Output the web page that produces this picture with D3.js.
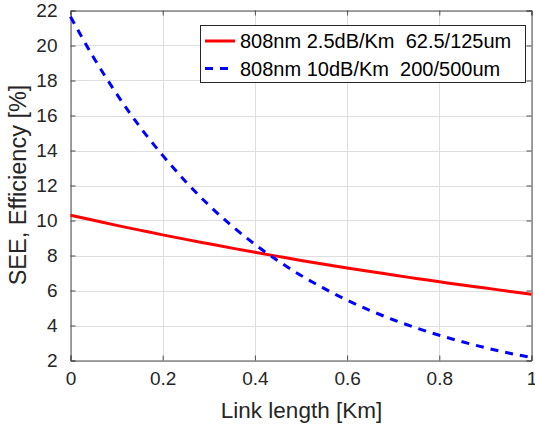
<!DOCTYPE html>
<html>
<head>
<meta charset="utf-8">
<script src="https://cdn.jsdelivr.net/npm/d3@7"></script>
<style>
  body { margin: 0; background: #fff; }
  text { font-family: "Liberation Sans", Arial, sans-serif; }
</style>
</head>
<body>
<div id="container"></div>
<script>
// Link length samples [Km]
var linkLength = [0, 0.05, 0.1, 0.15, 0.2, 0.25, 0.3, 0.35, 0.4, 0.45, 0.5,
                  0.55, 0.6, 0.65, 0.7, 0.75, 0.8, 0.85, 0.9, 0.95, 1];

// 808nm 2.5dB/Km 62.5/125um
var seeThin = [10.30, 10.01, 9.72, 9.45, 9.18, 8.92, 8.67, 8.42, 8.18, 7.95, 7.72,
               7.50, 7.29, 7.09, 6.88, 6.69, 6.50, 6.31, 6.14, 5.96, 5.79];

// 808nm 10dB/Km 200/500um
var seeThick = [21.65, 19.32, 17.24, 15.37, 13.72, 12.22, 10.88, 9.69, 8.64, 7.70, 6.86,
                6.12, 5.45, 4.86, 4.33, 3.86, 3.44, 3.07, 2.73, 2.43, 2.17];

var xTicks = [0, 0.2, 0.4, 0.6, 0.8, 1];
var yTicks = [2, 4, 6, 8, 10, 12, 14, 16, 18, 20, 22];
var seriesNames = ["808nm 2.5dB/Km  62.5/125um", "808nm 10dB/Km  200/500um"];

var width = 535,
    height = 429;

// Plot box edges
var pLeft = 70.5, pRight = 531.5, pTop = 10.5, pBottom = 360.5;

var svg = d3.select("#container")
            .append("svg")
              .attr("width", width)
              .attr("height", height);

var x = d3.scaleLinear().domain([0, 1]).range([pLeft, pRight]);
var y = d3.scaleLinear().domain([2, 22]).range([pBottom, pTop]);

// Grid lines
var grid = svg.append("g").attr("stroke", "#dedede").attr("stroke-width", 1);
xTicks.forEach(function(t) {
  grid.append("line")
    .attr("x1", Math.round(x(t)) + 0.5).attr("x2", Math.round(x(t)) + 0.5)
    .attr("y1", pTop).attr("y2", pBottom);
});
yTicks.forEach(function(t) {
  grid.append("line")
    .attr("y1", Math.round(y(t)) + 0.5).attr("y2", Math.round(y(t)) + 0.5)
    .attr("x1", pLeft).attr("x2", pRight);
});

// Axes with inward ticks (box on)
var fmt = function(d) { return d3.format("")(d); };
var axisColor = "#4d4d4d";

var xAxis = svg.append("g")
  .attr("transform", "translate(0," + pBottom + ")")
  .call(d3.axisBottom(x).tickValues(xTicks).tickSize(-5).tickPadding(11).tickFormat(fmt));
var xAxisTop = svg.append("g")
  .attr("transform", "translate(0," + pTop + ")")
  .call(d3.axisTop(x).tickValues(xTicks).tickSize(-5).tickFormat(""));
var yAxis = svg.append("g")
  .attr("transform", "translate(" + pLeft + ",0)")
  .call(d3.axisLeft(y).tickValues(yTicks).tickSize(-5).tickPadding(13).tickFormat(fmt));
var yAxisRight = svg.append("g")
  .attr("transform", "translate(" + pRight + ",0)")
  .call(d3.axisRight(y).tickValues(yTicks).tickSize(-5).tickFormat(""));

[xAxis, xAxisTop, yAxis, yAxisRight].forEach(function(a) {
  a.select(".domain").attr("stroke", axisColor).attr("stroke-width", 1);
  a.selectAll(".tick line").attr("stroke", axisColor);
  a.selectAll("text")
    .attr("fill", "#262626")
    .style("font-size", "19px")
    .style("font-family", "'Liberation Sans', Arial, sans-serif");
});

// Series
var line = d3.line()
  .x(function(d) { return x(d[0]); })
  .y(function(d) { return y(d[1]); })
  .curve(d3.curveMonotoneX);

var thinData = linkLength.map(function(l, i) { return [l, seeThin[i]]; });
var thickData = linkLength.map(function(l, i) { return [l, seeThick[i]]; });

svg.append("path")
  .datum(thinData)
  .attr("d", line)
  .attr("fill", "none")
  .attr("stroke", "#ff0000")
  .attr("stroke-width", 3);

svg.append("path")
  .datum(thickData)
  .attr("d", line)
  .attr("fill", "none")
  .attr("stroke", "#0000ff")
  .attr("stroke-width", 3)
  .attr("stroke-dasharray", "8,7");

// Axis labels
svg.append("text")
  .attr("x", 301.5)
  .attr("y", 418)
  .attr("text-anchor", "middle")
  .attr("fill", "#262626")
  .style("font-size", "22.5px")
  .text("Link length [Km]");

svg.append("text")
  .attr("transform", "translate(26,185) rotate(-90)")
  .attr("text-anchor", "middle")
  .attr("fill", "#262626")
  .style("font-size", "23.5px")
  .text("SEE, Efficiency [%]");

// Legend
var legend = svg.append("g");
legend.append("rect")
  .attr("x", 200.5).attr("y", 25.5)
  .attr("width", 325).attr("height", 57)
  .attr("fill", "#fff")
  .attr("stroke", "#262626")
  .attr("stroke-width", 1);

var legendColors = ["#ff0000", "#0000ff"];
var legendDash = [null, "8,7"];
var legendY = [41, 68.5];
seriesNames.forEach(function(name, i) {
  legend.append("line")
    .attr("x1", 205).attr("x2", 235)
    .attr("y1", legendY[i]).attr("y2", legendY[i])
    .attr("stroke", legendColors[i])
    .attr("stroke-width", 3)
    .attr("stroke-dasharray", legendDash[i]);
  legend.append("text")
    .attr("x", 240)
    .attr("y", legendY[i])
    .attr("dy", "0.35em")
    .attr("fill", "#000")
    .style("font-size", "20px")
    .attr("xml:space", "preserve")
    .text(name);
});
</script>
</body>
</html>
